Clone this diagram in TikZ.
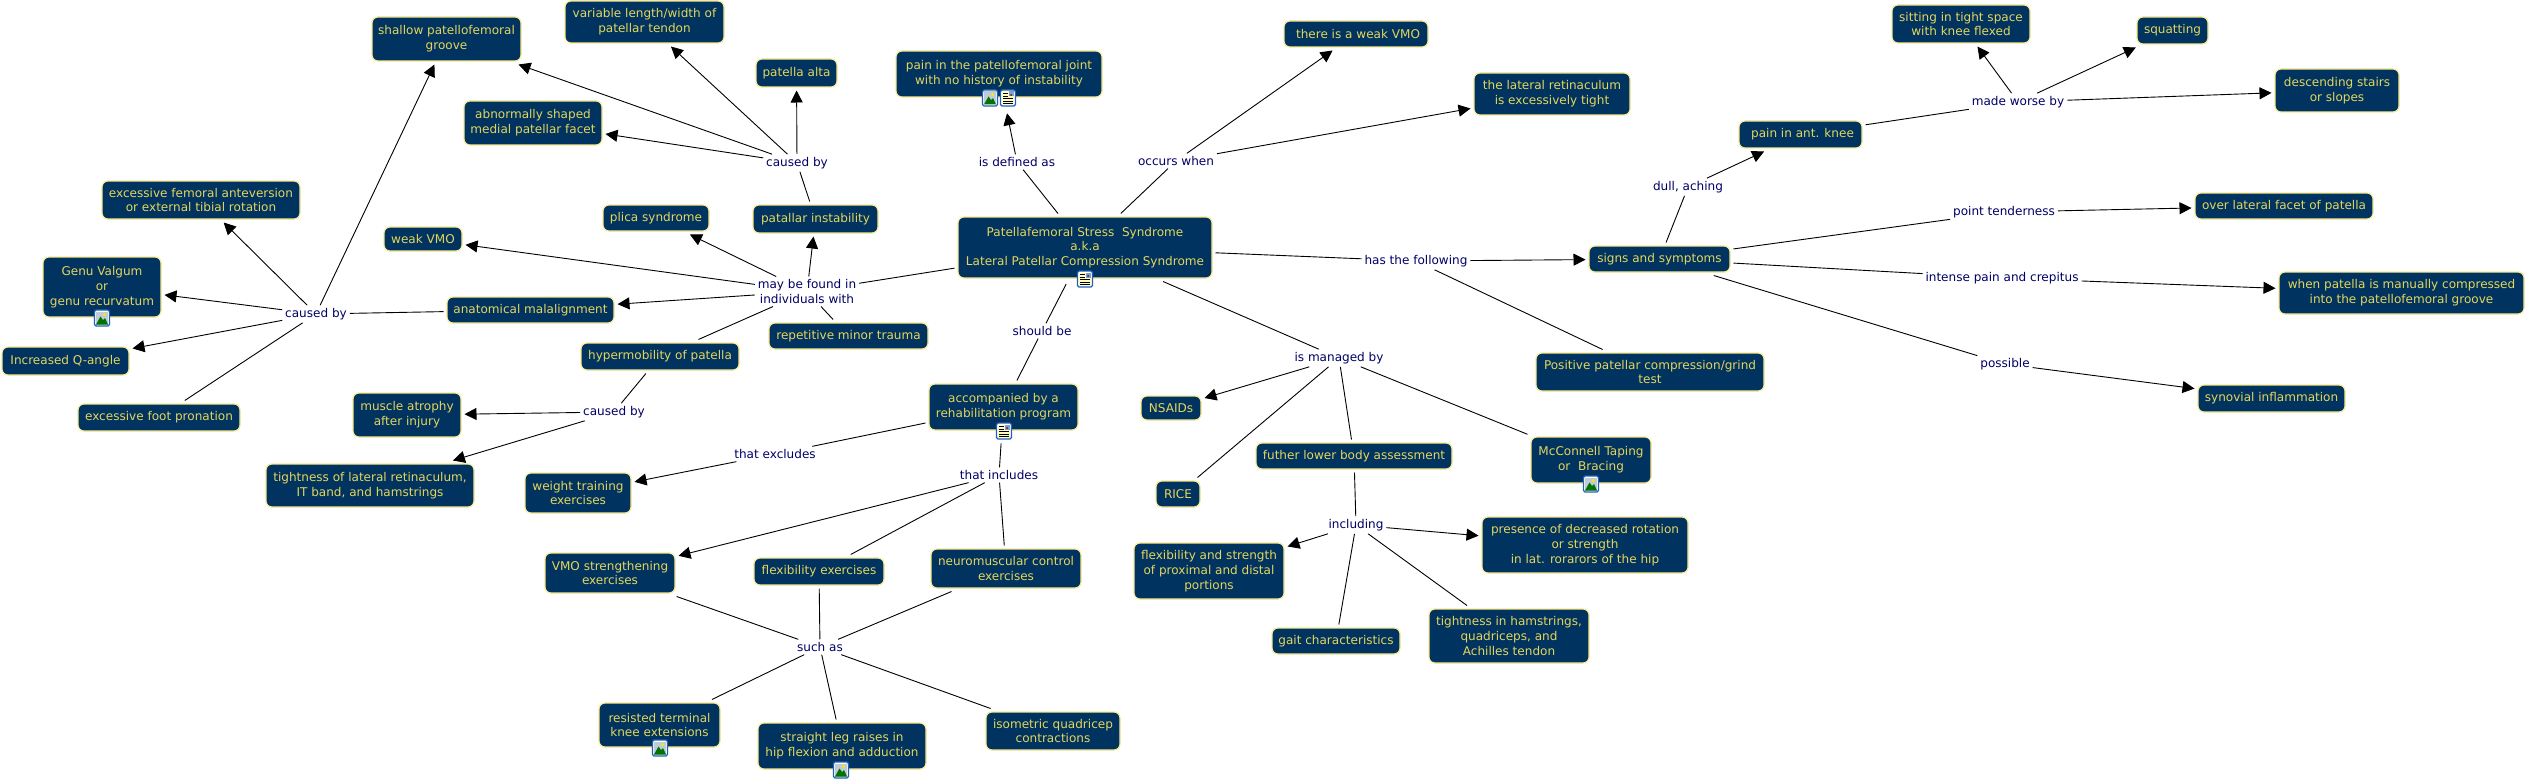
\documentclass[tikz,border=0pt]{standalone}
\usepackage{fontspec}
\setmainfont{DejaVu Sans}
\usetikzlibrary{arrows.meta}
\definecolor{cfill}{HTML}{003360}
\definecolor{cborder}{HTML}{F8EA90}
\definecolor{ctext}{HTML}{E4D65C}
\definecolor{clabel}{HTML}{000066}
\definecolor{iblue}{HTML}{1F62B8}
\tikzset{
  x=1pt,y=-1pt,
  concept/.style={rectangle,rounded corners=6pt,draw=cborder,line width=1.2pt,fill=cfill,text=ctext,
    align=center,inner sep=0pt,outer sep=3.5pt,font=\fontsize{12.05}{14.7}\selectfont,
    execute at begin node={\vspace*{2pt}}},
  linklabel/.style={rectangle,align=center,text=clabel,inner sep=2pt,outer sep=1pt,fill=white,
    font=\fontsize{12.05}{14.7}\selectfont,execute at begin node={\vspace*{2pt}}},
  plain/.style={draw=black,line width=0.9pt},
  arr/.style={draw=black,line width=0.9pt,-{Triangle[length=12pt,width=12pt]}},
  iconframe/.style={rectangle,rounded corners=1.5pt,draw=iblue,line width=1.1pt,fill=white,
    minimum width=15pt,minimum height=16pt,inner sep=0pt,outer sep=0pt},
}
% box: name, x1, y1, x2, y2, text
\newcommand\cbox[6]{\node[concept,minimum width={#4-#2},minimum height={#5-#3}] (#1) at ({(#2+#4)/2},{(#3+#5)/2}) {#6};}
\newcommand\imgicon[3]{%
  \node[iconframe] (#1) at (#2,#3) {};
  \begin{scope}[shift={(#2,#3)}]
    \fill[cfill!25] (-6,-6.5) rectangle (6,6.5);
    \fill[yellow!90!orange] (2.5,-3.5) circle (1.6);
    \fill[green!45!black] (-6,6.5) -- (-1.5,-1.5) -- (1,2) -- (3,0) -- (6,6.5) -- cycle;
  \end{scope}}
\newcommand\docicon[3]{%
  \node[iconframe] (#1) at (#2,#3) {};
  \begin{scope}[shift={(#2,#3)}]
    \fill[yellow!25] (-6,-6.5) rectangle (6,6.5);
    \fill[iblue!60] (0.5,-6.5) rectangle (6,-1.5);
    \fill[red!60!black] (3,-3) circle (1);
    \draw[black,line width=0.8pt] (-5,-4.5) -- (-0.5,-4.5) (-5,-2) -- (-0.5,-2) (-5,0.5) -- (5,0.5) (-5,3) -- (5,3) (-5,5) -- (5,5);
  \end{scope}}
\begin{document}
\begin{tikzpicture}
\useasboundingbox (0,0) rectangle (2527,781);
\fill[white] (0,0) rectangle (2527,781);
% concepts
\cbox{main}{958}{217}{1212}{278}{Patellafemoral Stress\ \ Syndrome\\a.k.a\\Lateral Patellar Compression Syndrome}
\cbox{shallow}{372}{17}{521}{61}{shallow patellofemoral\\groove}
\cbox{variable}{565}{1}{724}{43}{variable length/width of\\patellar tendon}
\cbox{alta}{756}{59}{837}{87}{patella alta}
\cbox{abnormal}{464}{101}{602}{145}{abnormally shaped\\medial patellar facet}
\cbox{femoral}{102}{181}{300}{219}{excessive femoral anteversion\\or external tibial rotation}
\cbox{genu}{43}{257}{161}{317}{Genu Valgum\\or\\genu recurvatum}
\cbox{qangle}{2}{347}{129}{375}{Increased Q-angle}
\cbox{weakvmo}{384}{227}{462}{251}{weak VMO}
\cbox{plica}{603}{205}{709}{231}{plica syndrome}
\cbox{instab}{753}{205}{878}{233}{patallar instability}
\cbox{malalign}{447}{297}{614}{323}{anatomical malalignment}
\cbox{hyper}{581}{343}{739}{370}{hypermobility of patella}
\cbox{trauma}{769}{323}{928}{349}{repetitive minor trauma}
\cbox{pronation}{78}{404}{240}{431}{excessive foot pronation}
\cbox{atrophy}{353}{393}{461}{437}{muscle atrophy\\after injury}
\cbox{tightlat}{266}{464}{474}{507}{tightness of lateral retinaculum,\\IT band, and hamstrings}
\cbox{weight}{525}{473}{631}{513}{weight training\\exercises}
\cbox{vmoex}{545}{553}{675}{593}{VMO strengthening\\exercises}
\cbox{flexex}{754}{558}{884}{585}{flexibility exercises}
\cbox{neuro}{931}{549}{1081}{588}{neuromuscular control\\exercises}
\cbox{resisted}{599}{703}{720}{747}{resisted terminal\\knee extensions}
\cbox{straight}{758}{723}{926}{769}{straight leg raises in\\hip flexion and adduction}
\cbox{isometric}{986}{712}{1120}{750}{isometric quadricep\\contractions}
\cbox{defined}{896}{51}{1102}{97}{pain in the patellofemoral joint\\with no history of instability}
\cbox{thereweak}{1284}{21}{1428}{47}{\hspace*{4pt}there is a weak VMO}
\cbox{lateral}{1474}{73}{1630}{115}{the lateral retinaculum\\is excessively tight}
\cbox{signs}{1589}{246}{1730}{272}{signs and symptoms}
\cbox{positive}{1536}{353}{1764}{391}{Positive patellar compression/grind\\test}
\cbox{rehab}{929}{384}{1078}{430}{accompanied by a\\rehabilitation program}
\cbox{nsaids}{1141}{396}{1201}{420}{NSAIDs}
\cbox{rice}{1156}{481}{1200}{507}{RICE}
\cbox{further}{1256}{443}{1452}{469}{futher lower body assessment}
\cbox{taping}{1531}{437}{1651}{483}{McConnell Taping\\or\ \ Bracing}
\cbox{flexstr}{1134}{543}{1284}{599}{flexibility and strength\\of proximal and distal\\portions}
\cbox{presence}{1482}{517}{1688}{573}{presence of decreased rotation\\or strength\\in lat. rorarors of the hip}
\cbox{gait}{1272}{628}{1400}{654}{gait characteristics}
\cbox{hams}{1429}{609}{1589}{663}{tightness in hamstrings,\\quadriceps, and\\Achilles tendon}
\cbox{sitting}{1892}{5}{2030}{43}{sitting in tight space\\with knee flexed}
\cbox{squat}{2137}{17}{2208}{44}{squatting}
\cbox{stairs}{2275}{69}{2399}{112}{descending stairs\\or slopes}
\cbox{knee}{1739}{121}{1862}{148}{\hspace*{4pt}pain in ant. knee}
\cbox{facet}{2195}{193}{2373}{219}{over lateral facet of patella}
\cbox{compress}{2279}{272}{2524}{314}{when patella is manually compressed\\into the patellofemoral groove}
\cbox{synovial}{2198}{385}{2345}{412}{synovial inflammation}
% linking phrases
\node[linklabel] (cbl) at (316,314) {caused by};
\node[linklabel] (cbt) at (797,163) {caused by};
\node[linklabel] (cbb) at (614,412) {caused by};
\node[linklabel] (may) at (807,291.5) {may be found in\\individuals with};
\node[linklabel] (isdef) at (1017,162) {is defined as};
\node[linklabel] (occurs) at (1176,161) {occurs when};
\node[linklabel] (hasfol) at (1416,261) {has the following};
\node[linklabel] (should) at (1042,331) {should be};
\node[linklabel] (managed) at (1339,358) {is managed by};
\node[linklabel] (worse) at (2018,102) {made worse by};
\node[linklabel] (dull) at (1688,187) {dull, aching};
\node[linklabel] (point) at (2004,212) {point tenderness};
\node[linklabel] (intense) at (2002,278) {intense pain and crepitus};
\node[linklabel] (possible) at (2005,364) {possible};
\node[linklabel] (excludes) at (775,454) {that excludes};
\node[linklabel] (includes) at (999,475) {that includes};
\node[linklabel] (suchas) at (820,647) {such as};
\node[linklabel] (including) at (1356,525) {including};
% connectors
\draw[plain] (main) -- (isdef);
\draw[arr,shorten >=13pt] (isdef) -- (defined);
\draw[plain] (main) -- (occurs);
\draw[arr] (occurs) -- (thereweak);
\draw[arr] (occurs) -- (lateral);
\draw[plain] (main) -- (hasfol);
\draw[arr] (hasfol) -- (signs);
\draw[plain] (hasfol) -- (positive);
\draw[plain,shorten <=3pt] (main) -- (should);
\draw[plain] (should) -- (rehab);
\draw[plain] (main) -- (managed);
\draw[arr] (managed) -- (nsaids);
\draw[plain] (managed) -- (rice);
\draw[plain] (managed) -- (further);
\draw[plain] (managed) -- (taping);
\draw[plain] (main) -- (may);
\draw[arr] (may) -- (weakvmo);
\draw[arr] (may) -- (plica);
\draw[arr] (may) -- (instab);
\draw[arr] (may) -- (malalign);
\draw[plain] (may) -- (hyper);
\draw[plain] (may) -- (trauma);
\draw[plain] (instab) -- (cbt);
\draw[arr] (cbt) -- (alta);
\draw[arr] (cbt) -- (variable);
\draw[arr] (cbt) -- (shallow);
\draw[arr] (cbt) -- (abnormal);
\draw[plain] (malalign) -- (cbl);
\draw[arr] (cbl) -- (shallow);
\draw[arr] (cbl) -- (femoral);
\draw[arr] (cbl) -- (genu);
\draw[arr] (cbl) -- (qangle);
\draw[plain] (cbl) -- (pronation);
\draw[plain] (hyper) -- (cbb);
\draw[arr] (cbb) -- (atrophy);
\draw[arr] (cbb) -- (tightlat);
\draw[plain] (rehab) -- (excludes);
\draw[arr] (excludes) -- (weight);
\draw[plain,shorten <=10pt] (rehab) -- (includes);
\draw[arr] (includes) -- (vmoex);
\draw[plain] (includes) -- (flexex);
\draw[plain] (includes) -- (neuro);
\draw[plain] (vmoex) -- (suchas);
\draw[plain] (flexex) -- (suchas);
\draw[plain] (neuro) -- (suchas);
\draw[plain] (suchas) -- (resisted);
\draw[plain] (suchas) -- (straight);
\draw[plain] (suchas) -- (isometric);
\draw[plain] (further) -- (including);
\draw[arr] (including) -- (flexstr);
\draw[arr] (including) -- (presence);
\draw[plain] (including) -- (gait);
\draw[plain] (including) -- (hams);
\draw[plain] (signs) -- (dull);
\draw[arr] (dull) -- (knee);
\draw[plain] (knee) -- (worse);
\draw[arr] (worse) -- (sitting);
\draw[arr] (worse) -- (squat);
\draw[arr] (worse) -- (stairs);
\draw[plain] (signs) -- (point);
\draw[arr] (point) -- (facet);
\draw[plain] (signs) -- (intense);
\draw[arr] (intense) -- (compress);
\draw[plain] (signs) -- (possible);
\draw[arr] (possible) -- (synovial);
% icons
\imgicon{igenu}{102}{318}
\imgicon{idefa}{990}{98}
\docicon{idefb}{1008}{98}
\docicon{imain}{1085}{279}
\docicon{irehab}{1004}{431}
\imgicon{itaping}{1591}{484}
\imgicon{iresist}{660}{748}
\imgicon{istraight}{841}{770}
\end{tikzpicture}
\end{document}
